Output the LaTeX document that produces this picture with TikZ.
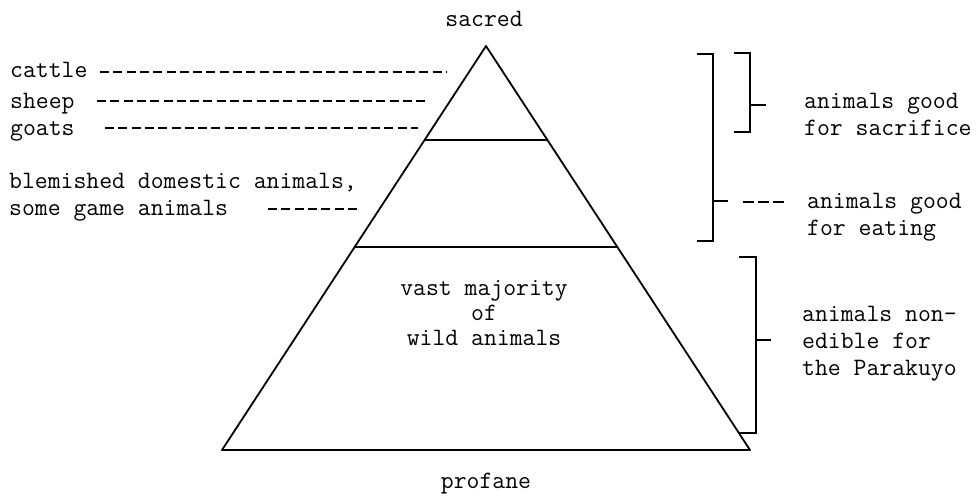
\documentclass[tikz,border=0pt]{standalone}
\begin{document}
\begin{tikzpicture}[x=1pt,y=-1pt,
  lbl/.style={font=\ttfamily\fontsize{25}{27}\selectfont, inner sep=0pt, align=left},
  clbl/.style={font=\ttfamily\fontsize{25}{25}\selectfont, inner sep=0pt, align=center},
  lead/.style={line width=1.1pt, dash pattern=on 9pt off 4.3pt},
  pyr/.style={line width=1.8pt, line join=round},
  divline/.style={line width=1.3pt},
  brk/.style={line width=1.3pt}]
\useasboundingbox (0,0) rectangle (978,496);

% pyramid
\coordinate (apex) at (486,46);
\coordinate (bl) at (222,450);
\coordinate (br) at (750,450);
\draw[pyr] (apex) -- (br) -- (bl) -- cycle;
\coordinate (d1l) at (424.6,140);
\coordinate (d1r) at (547.4,140);
\coordinate (d2l) at (354.7,247);
\coordinate (d2r) at (617.3,247);
\draw[divline] (d1l) -- (d1r);
\draw[divline] (d2l) -- (d2r);

% top / bottom labels
\node[lbl, anchor=base] (sacred) at (484,26) {sacred};
\node[lbl, anchor=base] (profane) at (486,488) {profane};
\node[clbl, anchor=base] (wild) at (484,345) {vast majority\\of\\wild animals};

% left labels
\node[lbl, anchor=base west] (cattle) at (10,77) {cattle};
\node[lbl, anchor=base west] (sheep) at (10,108) {sheep};
\node[lbl, anchor=base west] (goats) at (10,135) {goats};
\node[lbl, anchor=base west] (blem) at (9,215) {blemished domestic animals,\\some game animals};

\coordinate (cattleA) at (100,72);  \coordinate (cattleB) at (447,72);
\coordinate (sheepA) at (97,101);   \coordinate (sheepB) at (427,101);
\coordinate (goatsA) at (105,128);  \coordinate (goatsB) at (418,128);
\coordinate (blemA) at (268,209);   \coordinate (blemB) at (360,209);
\draw[lead] (cattleA) -- (cattleB);
\draw[lead] (sheepA) -- (sheepB);
\draw[lead] (goatsA) -- (goatsB);
\draw[lead] (blemA) -- (blemB);

% brackets
\draw[brk] (697,54) -- (713,54) -- (713,241) -- (697,241);
\coordinate (eatT0) at (713,201); \coordinate (eatT1) at (728,201);
\draw[brk] (eatT0) -- (eatT1);
\coordinate (eatD0) at (743,202); \coordinate (eatD1) at (787,202);
\draw[line width=1.1pt, dash pattern=on 11pt off 4pt] (eatD0) -- (eatD1);

\draw[brk] (734,53) -- (750,53) -- (750,132) -- (734,132);
\coordinate (sacT0) at (750,105); \coordinate (sacT1) at (766,105);
\draw[brk] (sacT0) -- (sacT1);

\draw[brk] (739,257) -- (756,257) -- (756,433) -- (739,433);
\coordinate (nonT0) at (756,340); \coordinate (nonT1) at (771,340);
\draw[brk] (nonT0) -- (nonT1);

% right labels
\node[lbl, anchor=base west] (sacrifice) at (804,135) {animals good\\for sacrifice};
\node[lbl, anchor=base west] (eating) at (807,235) {animals good\\for eating};
\node[lbl, anchor=base west] (nonedible) at (802,375) {animals non-\\edible for\\the Parakuyo};
\end{tikzpicture}
\end{document}
